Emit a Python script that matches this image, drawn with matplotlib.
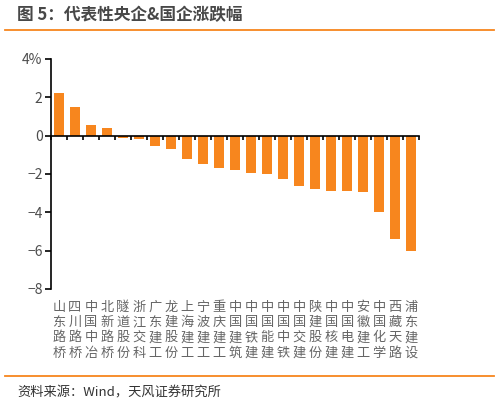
import matplotlib
matplotlib.use('Agg')
from matplotlib import pyplot as plt
from matplotlib import transforms

plt.rcParams['font.family'] = ['Noto Sans CJK SC', 'DejaVu Sans']
plt.rcParams['axes.unicode_minus'] = True

names = ['山东路桥', '四川路桥', '中国中冶', '北新路桥', '隧道股份', '浙江交科', '广东建工',
         '龙建股份', '上海建工', '宁波建工', '重庆建工', '中国建筑', '中国铁建', '中国能建',
         '中国中铁', '中国交建', '陕建股份', '中国核建', '中国电建', '安徽建工', '中国化学',
         '西藏天路', '浦东建设']
change = [2.21, 1.50, 0.56, 0.40, -0.12, -0.20, -0.52, -0.68, -1.22, -1.46, -1.70, -1.78,
          -1.93, -2.00, -2.25, -2.63, -2.80, -2.87, -2.88, -2.95, -3.97, -5.38, -6.00]
yticks = [4, 2, 0, -2, -4, -6, -8]
ytick_labels = ['4%', '2', '0', '−2', '−4', '−6', '−8']

orange = '#F7861E'

fig = plt.figure(figsize=(4.99, 4.03), dpi=100)
ax = fig.add_axes([0.102, 0.283, 0.738, 0.571])

x = list(range(len(names)))
ax.bar(x, change, width=0.6, color=orange, zorder=2)

ax.set_xlim(-0.5, len(names) - 0.5)
ax.set_ylim(-8, 4)
ax.set_yticks(yticks)
ax.set_yticklabels(ytick_labels, fontsize=10, color='#4d4d4d')
ax.tick_params(axis='y', direction='out', length=4, width=1.2, pad=2)

# x axis sits at zero, ticks between bars
ax.spines['bottom'].set_position(('data', 0))
ax.spines['top'].set_visible(False)
ax.spines['right'].set_visible(False)
ax.spines['left'].set_linewidth(1.2)
ax.spines['bottom'].set_linewidth(1.2)
ax.set_xticks([i - 0.5 for i in range(len(names) + 1)])
ax.set_xticklabels([])
ax.tick_params(axis='x', direction='out', length=3, width=1.2)

trans = transforms.blended_transform_factory(ax.transData, ax.transAxes)
for i, name in enumerate(names):
    ax.text(i, -0.052, '\n'.join(name), transform=trans, ha='center', va='top',
            fontsize=9.5, color='#666666', fontweight='light', linespacing=1.22)

# header and footer
fig.text(0.034, 0.963, '图 5：代表性央企&国企涨跌幅', fontsize=12, fontweight='bold',
         color='#484848', ha='left', va='center')
fig.add_artist(plt.Line2D([0.01, 0.99], [0.926, 0.926], color=orange, lw=1.3))
fig.add_artist(plt.Line2D([0.01, 0.99], [0.068, 0.068], color=orange, lw=1.3))
fig.text(0.034, 0.026, '资料来源：Wind，天风证券研究所', fontsize=9.5, color='#333333',
         ha='left', va='center')

fig.savefig('out.png', dpi=100)
